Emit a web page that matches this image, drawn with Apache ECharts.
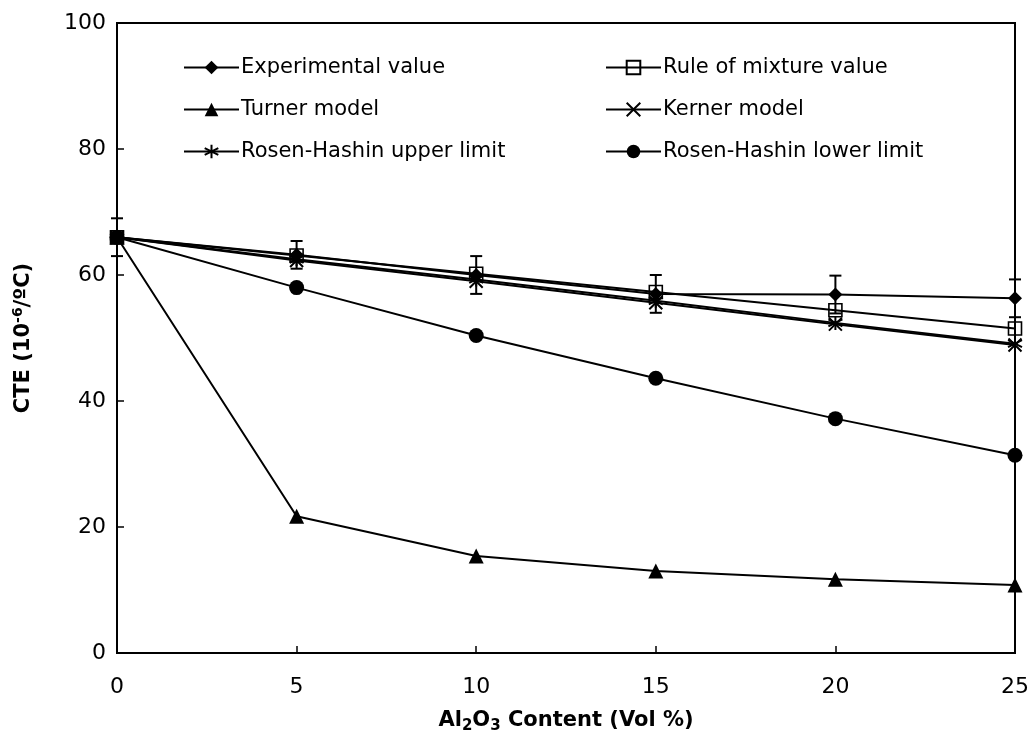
<!DOCTYPE html>
<html>
<head>
<meta charset="utf-8">
<script src="https://cdn.jsdelivr.net/npm/echarts@6/dist/echarts.min.js"></script>
<style>
  html, body { margin: 0; padding: 0; background: #fff; }
  #chart { width: 1036px; height: 740px; }
</style>
</head>
<body>
<div id="chart"></div>
<script>
// Al2O3 content (vol %)
const contents = [0, 5, 10, 15, 20, 25];

// Coefficient of thermal expansion, 10^-6 /ºC
const experimental = [66.0, 63.2, 60.0, 57.0, 56.9, 56.3];
const experimentalErr = [3.0, 2.2, 3.0, 3.0, 3.0, 3.0];
const ruleOfMixture = [66.0, 63.1, 60.2, 57.3, 54.4, 51.5];
const turner = [66.0, 21.7, 15.4, 13.0, 11.7, 10.8];
const kerner = [66.0, 62.3, 59.0, 55.6, 52.2, 48.9];
const rhUpper = [66.0, 62.5, 59.3, 55.9, 52.4, 49.1];
const rhLower = [66.0, 58.0, 50.4, 43.6, 37.2, 31.4];

const yTicks = [0, 20, 40, 60, 80, 100];
const xTicks = [0, 5, 10, 15, 20, 25];

const names = [
  'Experimental value', 'Rule of mixture value',
  'Turner model', 'Kerner model',
  'Rosen-Hashin upper limit', 'Rosen-Hashin lower limit'
];

const FONT = '"DejaVu Sans", "Liberation Sans", Arial, sans-serif';
const CROSS = 'path://M0,0L10,10M10,0L0,10';
const ASTERISK = 'path://M5,0L5,10M0.67,2.5L9.33,7.5M9.33,2.5L0.67,7.5';

const pairs = arr => contents.map((x, i) => [x, arr[i]]);

function lineSeries(name, values, symbol, size, extra) {
  return Object.assign({
    name: name,
    type: 'line',
    data: pairs(values),
    symbol: symbol,
    symbolSize: size,
    showAllSymbol: true,
    lineStyle: { color: '#000', width: 2 },
    itemStyle: { color: '#000', borderColor: '#000', borderWidth: 0 },
    emphasis: { disabled: true },
    animation: false,
    z: 3
  }, extra || {});
}

const series = [
  lineSeries(names[1], ruleOfMixture, 'rect', 13, {
    itemStyle: { color: 'rgba(0,0,0,0)', borderColor: '#000', borderWidth: 1.6 }
  }),
  lineSeries(names[2], turner, 'triangle', 15),
  lineSeries(names[3], kerner, CROSS, 13, {
    itemStyle: { color: 'rgba(0,0,0,0)', borderColor: '#000', borderWidth: 2 }
  }),
  lineSeries(names[4], rhUpper, ASTERISK, 14, {
    itemStyle: { color: 'rgba(0,0,0,0)', borderColor: '#000', borderWidth: 2 }
  }),
  lineSeries(names[5], rhLower, 'circle', 15),
  lineSeries(names[0], experimental, 'diamond', 14),
  {
    name: 'experimental-error',
    type: 'custom',
    data: contents.map((x, i) => [x, experimental[i], experimentalErr[i]]),
    renderItem: function (params, api) {
      const x = api.value(0), y = api.value(1), e = api.value(2);
      const top = api.coord([x, y + e]);
      const bot = api.coord([x, y - e]);
      const hw = 6;
      const st = { stroke: '#000', lineWidth: 2 };
      return {
        type: 'group',
        children: [
          { type: 'line', shape: { x1: top[0], y1: top[1], x2: bot[0], y2: bot[1] }, style: st },
          { type: 'line', shape: { x1: top[0] - hw, y1: top[1], x2: top[0] + hw, y2: top[1] }, style: st },
          { type: 'line', shape: { x1: bot[0] - hw, y1: bot[1], x2: bot[0] + hw, y2: bot[1] }, style: st }
        ]
      };
    },
    animation: false,
    silent: true,
    z: 4
  }
];

// one legend block per cell: two columns, three rows
const legendCols = [183, 605];
const legendRows = [57, 99, 141];
const legends = names.map((n, i) => ({
  data: [n],
  left: legendCols[i % 2],
  top: legendRows[Math.floor(i / 2)],
  itemWidth: 55,
  itemHeight: 17,
  itemGap: 0,
  padding: 0,
  selectedMode: false,
  textStyle: { fontFamily: FONT, fontSize: 21, color: '#000', padding: [0, 0, 0, -3] }
}));

const option = {
  backgroundColor: '#fff',
  animation: false,
  grid: {
    left: 117, top: 23, right: 21, bottom: 87,
    outerBoundsMode: 'none',
    containLabel: false,
    show: true, borderColor: '#000', borderWidth: 2, backgroundColor: 'transparent'
  },
  legend: legends,
  xAxis: {
    type: 'value',
    min: xTicks[0], max: xTicks[xTicks.length - 1], interval: 5,
    axisLine: { show: true, lineStyle: { color: '#000', width: 2 } },
    axisTick: { show: true, inside: true, length: 7, lineStyle: { color: '#000', width: 1.5 } },
    splitLine: { show: false },
    axisLabel: { color: '#000', fontFamily: FONT, fontSize: 22, margin: 23 },
    name: '{b|Al}{sub|2}{b|O}{sub|3}{b| Content (Vol %)}',
    nameLocation: 'middle',
    nameGap: 54,
    nameTextStyle: {
      rich: {
        b: { fontFamily: FONT, fontSize: 21, fontWeight: 'bold', color: '#000' },
        sub: { fontFamily: FONT, fontSize: 15, fontWeight: 'bold', color: '#000', padding: [12, 0, 0, 0] }
      }
    }
  },
  yAxis: {
    type: 'value',
    min: yTicks[0], max: yTicks[yTicks.length - 1], interval: 20,
    axisLine: { show: true, lineStyle: { color: '#000', width: 2 } },
    axisTick: { show: true, inside: true, length: 7, lineStyle: { color: '#000', width: 1.5 } },
    splitLine: { show: false },
    axisLabel: { color: '#000', fontFamily: FONT, fontSize: 22, margin: 11 },
    name: '{b|CTE (10}{sup|-6}{b|/ºC)}',
    nameLocation: 'middle',
    nameGap: 81,
    nameRotate: 90,
    nameTextStyle: {
      rich: {
        b: { fontFamily: FONT, fontSize: 21, fontWeight: 'bold', color: '#000' },
        sup: { fontFamily: FONT, fontSize: 14, fontWeight: 'bold', color: '#000', padding: [0, 0, 11, 0] }
      }
    }
  },
  series: series
};

const chart = echarts.init(document.getElementById('chart'), null, { renderer: 'canvas' });
chart.setOption(option);
</script>
</body>
</html>
